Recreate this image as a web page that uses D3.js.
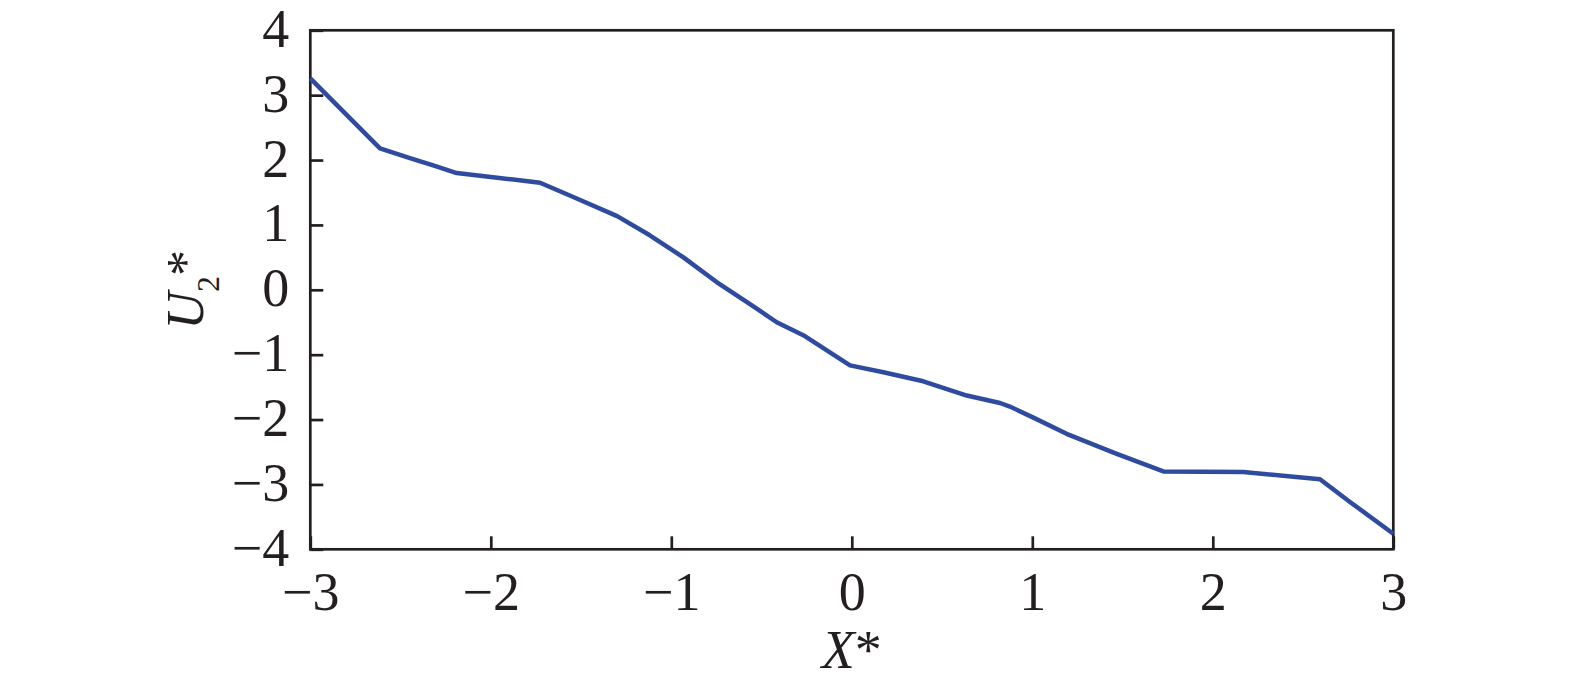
<!DOCTYPE html>
<html>
<head>
<meta charset="utf-8">
<script src="https://cdn.jsdelivr.net/npm/d3@7"></script>
<style>
  html, body { margin: 0; padding: 0; background: #fff; }
  svg { display: block; }
  text { font-family: "Liberation Serif", "Times New Roman", Times, serif; fill: #231f20; }
</style>
</head>
<body>
<svg id="chart" width="1575" height="688"></svg>
<script>
// ---- data ----
const xValues = [-3.00, -2.614, -2.448, -2.319, -2.189, -2.023, -1.875, -1.727, -1.543, -1.30,
                 -1.119, -0.933, -0.749, -0.564, -0.416, -0.269, -0.010, 0.175, 0.396, 0.637,
                 0.821, 0.876, 1.006, 1.19, 1.468, 1.726, 2.169, 2.594, 2.76, 3.00];
const yValues = [3.26, 2.18, 2.03, 1.917, 1.80, 1.745, 1.70, 1.65, 1.43, 1.135,
                 0.84, 0.50, 0.12, -0.22, -0.50, -0.70, -1.165, -1.27, -1.41, -1.63,
                 -1.745, -1.80, -1.97, -2.22, -2.53, -2.80, -2.81, -2.92, -3.27, -3.76];
const xTicks = [-3, -2, -1, 0, 1, 2, 3];
const yTicks = [4, 3, 2, 1, 0, -1, -2, -3, -4];

(function () {
  // ---- layout ----
  const mLeft = 310.3, mRight = 1393.3, mTop = 30.3, mBottom = 549.3;
  const svg = d3.select("#chart");

  const x = d3.scaleLinear().domain([-3, 3]).range([mLeft, mRight]);
  const y = d3.scaleLinear().domain([-4, 4]).range([mBottom, mTop]);

  const fmt = d3.format("");
  const fontSize = 54;
  const ff = '"Liberation Serif", "Times New Roman", Times, serif';

  // x axis
  const gx = svg.append("g")
    .attr("transform", `translate(0,${mBottom})`)
    .call(d3.axisBottom(x).tickValues(xTicks).tickSize(-13).tickFormat(fmt))
    .attr("font-family", ff);
  gx.select(".domain").remove();
  gx.selectAll("line").attr("stroke", "#231f20").attr("stroke-width", 2.7);
  gx.selectAll("text").attr("y", 61).attr("dy", null)
    .attr("font-size", fontSize).attr("fill", "#231f20").style("font-family", ff);

  // y axis
  const gy = svg.append("g")
    .attr("transform", `translate(${mLeft},0)`)
    .call(d3.axisLeft(y).tickValues(yTicks).tickSize(-13).tickFormat(fmt))
    .attr("font-family", ff);
  gy.select(".domain").remove();
  gy.selectAll("line").attr("stroke", "#231f20").attr("stroke-width", 2.7);
  gy.selectAll("text").attr("x", -21).attr("dy", null).attr("y", 16)
    .attr("font-size", fontSize).attr("fill", "#231f20").style("font-family", ff);

  // frame
  svg.append("rect")
    .attr("x", x(-3)).attr("y", y(4))
    .attr("width", x(3) - x(-3)).attr("height", y(-4) - y(4))
    .attr("fill", "none").attr("stroke", "#231f20").attr("stroke-width", 2.7);

  // line
  const pts = xValues.map((v, i) => [v, yValues[i]]);
  svg.append("path")
    .datum(pts)
    .attr("fill", "none")
    .attr("stroke", "#2f4b9f")
    .attr("stroke-width", 4.5)
    .attr("stroke-linejoin", "round")
    .attr("d", d3.line().x(d => x(d[0])).y(d => y(d[1])));

  // x label
  const xl = svg.append("text")
    .attr("x", (mLeft + mRight) / 2).attr("y", 668)
    .attr("text-anchor", "middle").attr("font-size", fontSize);
  xl.append("tspan").attr("font-style", "italic").text("X");
  xl.append("tspan").text("*");

  // y label
  const yl = svg.append("text")
    .attr("transform", `translate(203,${(mTop + mBottom) / 2}) rotate(-90)`)
    .attr("text-anchor", "middle").attr("font-size", 52);
  yl.append("tspan").attr("font-style", "italic").text("U");
  yl.append("tspan").attr("font-size", 32).attr("dy", 16).text("2");
  yl.append("tspan").attr("dy", -16).text("*");
})();
</script>
</body>
</html>
